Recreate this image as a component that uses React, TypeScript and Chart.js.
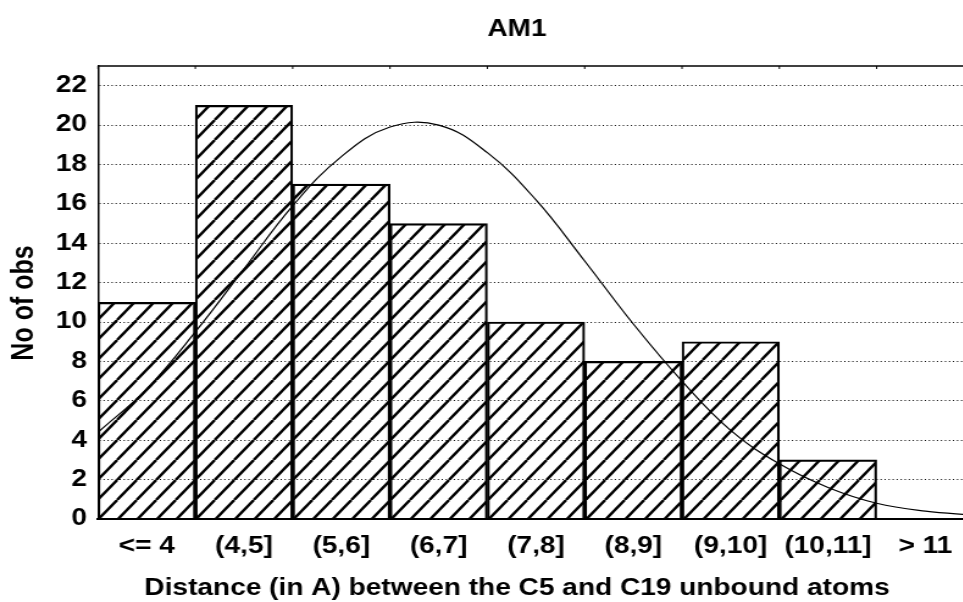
import React, { useEffect, useRef } from "react";
import { Chart, registerables } from "chart.js";

Chart.register(...registerables);

// ---------- data ----------
const TITLE = "AM1";
const X_TITLE = "Distance (in A) between the C5 and C19 unbound atoms";
const Y_TITLE = "No of obs";
const CATEGORIES = ["<= 4", "(4,5]", "(5,6]", "(6,7]", "(7,8]", "(8,9]", "(9,10]", "(10,11]", "> 11"];
const COUNTS = [11, 21, 17, 15, 10, 8, 9, 3, 0];
const BIN_EDGES = [3, 4, 5, 6, 7, 8, 9, 10, 11, 12];
const CURVE_X = [3, 3.5, 4, 4.5, 5, 5.5, 6, 6.5, 7, 7.5, 8, 8.5, 9, 9.5, 10, 10.5, 11, 11.5, 12];
const CURVE_Y = [4.4, 6.6, 9.5, 12.7, 15.9, 18.4, 19.9, 20.0, 18.6, 16.2, 13.1, 9.9, 7.0, 4.5, 2.8, 1.6, 0.8, 0.4, 0.2];
const Y_MIN = 0;
const Y_MAX = 23;
const Y_STEP = 2;

// ---------- layout / style ----------
const SX = 1.22; // horizontal stretch of the figure
const FIG_W = 963;
const FIG_H = 602;
const CANVAS_W = 806;
const TITLE_CX = 517; // css px
const FONT = '"Liberation Sans", Arial, Helvetica, sans-serif';

function makeHatch(ctx: CanvasRenderingContext2D): CanvasPattern | string {
  const tw = 16;
  const th = 20;
  const c = document.createElement("canvas");
  c.width = tw;
  c.height = th;
  const g = c.getContext("2d");
  if (!g) return "#fff";
  g.strokeStyle = "#000";
  g.lineWidth = 2.4;
  for (let k = -1; k <= 1; k++) {
    g.beginPath();
    g.moveTo(k * tw, th);
    g.lineTo(k * tw + tw, 0);
    g.stroke();
  }
  return ctx.createPattern(c, "repeat") || "#fff";
}

const decorPlugin = {
  id: "decor",
  afterDraw(chart: any) {
    const { ctx, chartArea } = chart;
    const x2 = chart.scales.x2;
    const cx = TITLE_CX / SX;
    ctx.save();
    ctx.strokeStyle = "#000";
    ctx.lineWidth = 1.5;
    ctx.beginPath();
    ctx.moveTo(chartArea.left, chartArea.top);
    ctx.lineTo(chartArea.right, chartArea.top);
    ctx.stroke();
    ctx.lineWidth = 1;
    BIN_EDGES.forEach((v) => {
      const px = x2.getPixelForValue(v);
      ctx.beginPath();
      ctx.moveTo(px, chartArea.top);
      ctx.lineTo(px, chartArea.top + 3);
      ctx.stroke();
    });
    ctx.fillStyle = "#000";
    ctx.textAlign = "center";
    ctx.textBaseline = "alphabetic";
    ctx.font = `bold 23px ${FONT}`;
    ctx.fillText(TITLE, cx, 36);
    ctx.font = `bold 23px ${FONT}`;
    ctx.fillText(X_TITLE, cx, 595);
    ctx.translate(25 / SX, 303);
    ctx.rotate(-Math.PI / 2);
    ctx.textBaseline = "middle";
    ctx.font = `bold 25px ${FONT}`;
    ctx.fillText(Y_TITLE, 0, 0);
    ctx.restore();
  },
};

export default function App() {
  const canvasRef = useRef<HTMLCanvasElement | null>(null);

  useEffect(() => {
    const canvas = canvasRef.current;
    if (!canvas) return;
    const ctx = canvas.getContext("2d");
    if (!ctx) return;
    const hatch = makeHatch(ctx);
    const tickFont = { family: FONT, size: 23, weight: "bold" as const };

    const chart = new Chart(ctx, {
      type: "bar",
      data: {
        labels: CATEGORIES,
        datasets: [
          {
            type: "line",
            data: CURVE_X.map((x, i) => ({ x, y: CURVE_Y[i] })),
            xAxisID: "x2",
            yAxisID: "y",
            borderColor: "#000",
            borderWidth: 1.2,
            pointRadius: 0,
            tension: 0.4,
            fill: false,
            order: 0,
          } as any,
          {
            type: "bar",
            data: COUNTS,
            xAxisID: "x",
            yAxisID: "y",
            backgroundColor: hatch as any,
            borderColor: "#000",
            borderWidth: 1.5,
            barPercentage: 1,
            categoryPercentage: 1,
            grouped: false,
            order: 1,
          } as any,
        ],
      },
      options: {
        animation: false,
        responsive: false,
        events: [],
        layout: { padding: { top: 66, right: CANVAS_W - 974 / SX, bottom: 0, left: 0 } },
        plugins: {
          legend: { display: false },
          title: { display: false },
          tooltip: { enabled: false },
        },
        scales: {
          x: {
            type: "category",
            offset: true,
            grid: { display: false, drawTicks: false },
            border: { display: true, color: "#000", width: 2 },
            ticks: { font: tickFont, color: "#000", padding: 14, maxRotation: 0, autoSkip: false },
            afterFit: (s: any) => {
              s.height = 83;
            },
          },
          x2: {
            type: "linear",
            offset: false,
            min: BIN_EDGES[0],
            max: BIN_EDGES[BIN_EDGES.length - 1],
            display: false,
            grid: { offset: false },
          },
          y: {
            type: "linear",
            min: Y_MIN,
            max: Y_MAX,
            ticks: {
              stepSize: Y_STEP,
              includeBounds: false,
              font: tickFont,
              color: "#000",
              padding: 9,
            },
            grid: { color: "#000", lineWidth: 1, drawTicks: false },
            border: { display: true, color: "#000", width: 1.5, dash: [1, 2.3] },
            afterFit: (s: any) => {
              s.width = 98 / SX;
            },
          },
        } as any,
      },
      plugins: [decorPlugin],
    });

    return () => {
      chart.destroy();
    };
  }, []);

  return (
    <div
      style={{
        position: "fixed",
        left: 0,
        top: 0,
        width: FIG_W,
        height: FIG_H,
        overflow: "hidden",
        background: "#fff",
      }}
    >
      <div style={{ transform: `scaleX(${SX})`, transformOrigin: "0 0", width: CANVAS_W, height: FIG_H }}>
        <canvas ref={canvasRef} width={CANVAS_W} height={FIG_H} style={{ display: "block" }} />
      </div>
    </div>
  );
}
